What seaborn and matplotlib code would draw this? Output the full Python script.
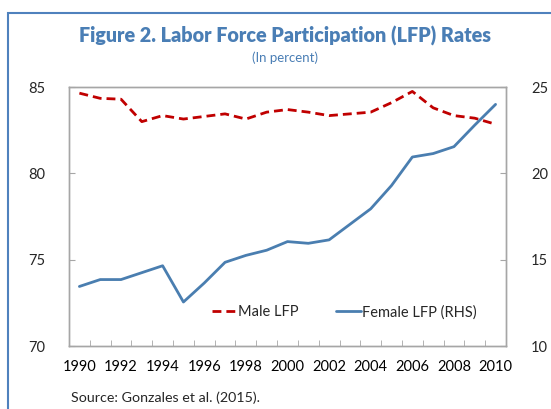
# Figure 2 : taux de participation au marché du travail
import pandas as pd
import seaborn as sns
import matplotlib.pyplot as plt
from matplotlib.patches import Rectangle

years = list(range(1990, 2011))
male_lfp = [84.65, 84.35, 84.3, 83.0, 83.35, 83.15, 83.3, 83.45, 83.15, 83.55, 83.7,
            83.55, 83.35, 83.45, 83.55, 84.1, 84.75, 83.8, 83.35, 83.2, 82.85]
female_lfp = [13.45, 13.85, 13.85, 14.25, 14.65, 12.55, 13.65, 14.85, 15.25, 15.55, 16.05,
              15.95, 16.15, 17.05, 17.95, 19.3, 20.95, 21.15, 21.55, 22.8, 24.0]

df = pd.DataFrame({'Year': years, 'Male': male_lfp, 'Female': female_lfp})

sns.set_style('white')
plt.rcParams['font.family'] = ['Lato', 'DejaVu Sans']

title_blue = '#4A7EB5'
red = '#C00000'
blue = '#4A7EB0'
grey = '#A6A6A6'

fig = plt.figure(figsize=(5.51, 4.09), dpi=100)
ax = fig.add_axes([0.1252, 0.154, 0.7931, 0.633])
ax2 = ax.twinx()

sns.lineplot(data=df, x='Year', y='Male', ax=ax, color=red, linewidth=2.0,
             linestyle=(0, (3.2, 1.8)), label='Male LFP', legend=False)
sns.lineplot(data=df, x='Year', y='Female', ax=ax2, color=blue, linewidth=2.0,
             label='Female LFP (RHS)', legend=False)

ax.set_xlim(1989.5, 2010.5)
ax.set_ylim(70, 85)
ax2.set_ylim(10, 25)
ax.set_yticks([70, 75, 80, 85])
ax2.set_yticks([10, 15, 20, 25])
ax.set_xticks(range(1990, 2011, 2))
ax.set_xticks([y + 0.5 for y in range(1989, 2010)], minor=True)
ax.set_xlabel('')
ax.set_ylabel('')
ax2.set_ylabel('')

ax.tick_params(axis='x', which='major', length=0, pad=10, labelsize=10.5, colors='black')
ax.tick_params(axis='x', which='minor', length=4, direction='in', color=grey, bottom=True)
ax.tick_params(axis='y', length=4, direction='in', color=grey, pad=17, labelsize=10.5)
ax2.tick_params(axis='y', length=4, direction='in', color=grey, pad=18, labelsize=10.5)

for a in (ax, ax2):
    for s in a.spines.values():
        s.set_color(grey)
        s.set_linewidth(1.0)

h1, l1 = ax.get_legend_handles_labels()
h2, l2 = ax2.get_legend_handles_labels()
ax.legend(h1 + h2, l1 + l2, loc='center', bbox_to_anchor=(0.63, 0.131), ncol=2,
          frameon=False, fontsize=10.5, handlelength=1.7, handletextpad=0.1,
          columnspacing=2.6)

# Titre et sous-titre
fig.text(0.517, 0.912, 'Figure 2. Labor Force Participation (LFP) Rates', ha='center',
         va='center', fontsize=14.2, fontweight='heavy', color=title_blue)
fig.text(0.517, 0.86, '(In percent)', ha='center', va='center', fontsize=9.5,
         color=title_blue)
fig.text(0.129, 0.027, 'Source: Gonzales et al. (2015).', ha='left', va='center',
         fontsize=10.3)

# Cadre bleu autour de la figure
fig.patches.append(Rectangle((8 / 551, -0.1), 1.2, 1.1 - 13 / 409, transform=fig.transFigure,
                             fill=False, edgecolor='#4F81BD', linewidth=1.5, zorder=0))

fig.savefig('out.png', dpi=100)
